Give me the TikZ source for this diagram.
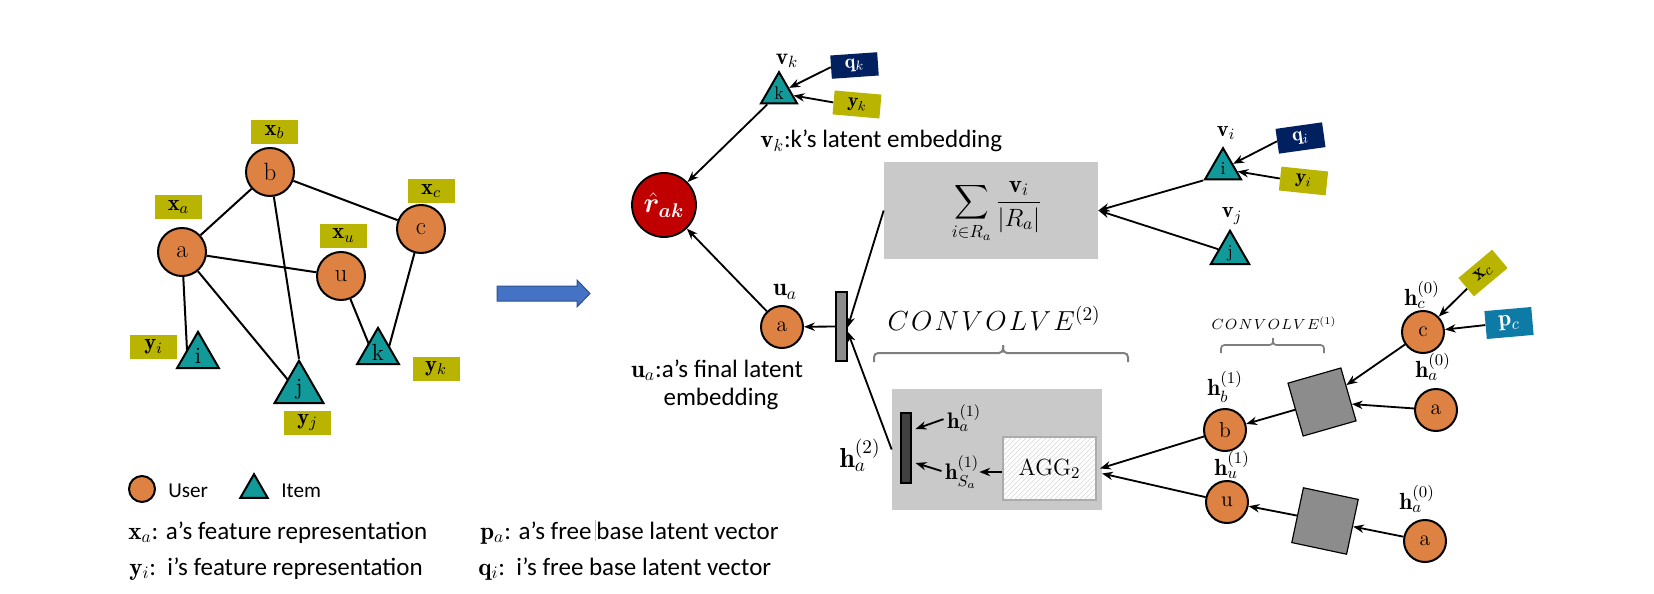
\RequirePackage{fix-cm}
\documentclass[tikz,border=0pt]{standalone}
\usepackage{amsmath}
\usepackage{bm}
\usepackage{fontspec}
\newfontfamily\carl{Carlito}
\usetikzlibrary{arrows.meta,shapes.geometric,patterns,calc}
\newcommand\fsz[1]{\fontsize{#1}{#1}\selectfont}
\definecolor{uorange}{HTML}{DE8244}
\definecolor{iteal}{HTML}{12999A}
\definecolor{olivebox}{HTML}{B8B400}
\definecolor{navybox}{HTML}{002060}
\definecolor{pblue}{HTML}{0E7BA7}
\definecolor{rred}{HTML}{C00000}
\definecolor{boxgray}{HTML}{C9C9C9}
\definecolor{sqgray}{HTML}{8C8C8C}
\definecolor{bargray}{HTML}{404040}
\definecolor{arrowblue}{HTML}{4472C4}
\definecolor{arrowedge}{HTML}{2F528F}
\definecolor{bracegray}{HTML}{7F7F7F}
\begin{document}
\begin{tikzpicture}[x=0.6pt,y=-0.6pt,
  user/.style={circle,draw,line width=1.2pt,fill=uorange,inner sep=0pt,minimum size=#1},
  user/.default=28.8pt,
  item/.style={regular polygon,regular polygon sides=3,draw,line width=1.2pt,fill=iteal,inner sep=0pt,minimum size=#1},
  item/.default=29pt,
  fbox/.style={rectangle,fill=olivebox,inner sep=0pt,minimum width=28.2pt,minimum height=14.4pt},
  nbox/.style={rectangle,fill=navybox,text=white,inner sep=0pt,minimum width=28.2pt,minimum height=14pt},
  conn/.style={line width=1.2pt},
  arr/.style={line width=1.1pt,-{Stealth[length=6.5pt,width=5pt]}},
  txt/.style={inner sep=0pt,font=\carl\fsz{15}},
  lab/.style={inner sep=0pt},
  bracestyle/.style={bracegray,line width=1.2pt,rounded corners=2.5pt},
  grayblock/.style={rectangle,fill=boxgray,inner sep=0pt}]
\useasboundingbox (0,0) rectangle (1654,594);

% ---------- left graph ----------
\begin{scope}[every node/.append style={font=\fsz{15}}]
\node[user] (na) at (182,252) {a};
\node[user] (nb) at (270,172) {b};
\node[user] (nu) at (341,276) {u};
\node[user] (nc) at (421,229) {c};
\end{scope}
\draw[conn] (na) -- (nb);
\draw[conn] (nb) -- (nc);
\draw[conn] (na) -- (nu);
\draw[conn] (na) -- (187,350);
\draw[conn] (na) -- (288,380);
\draw[conn] (nu) -- (370,347);
\draw[conn] (nc) -- (389,347);
\begin{scope}[every node/.append style={font=\fsz{14}}]
\node[item] (ni) at (198,356) {i};
\node[item] (nj) at (299,389) {j};
\node[item] (nk) at (378,352) {k};
\end{scope}
\draw[conn] (nb) -- (nj.corner 1);
\begin{scope}[every node/.append style={font=\fsz{13.5}}]
\node[fbox] (xb) at (274.5,132) {$\mathbf{x}_b$};
\node[fbox] (xa) at (178.5,207) {$\mathbf{x}_a$};
\node[fbox] (xu) at (343.5,235.5) {$\mathbf{x}_u$};
\node[fbox] (xc) at (431,191) {$\mathbf{x}_c$};
\node[fbox] (yi) at (153.5,347) {$\mathbf{y}_i$};
\node[fbox] (yj) at (307.5,422.5) {$\mathbf{y}_j$};
\node[fbox] (yk) at (436,368.5) {$\mathbf{y}_k$};
\end{scope}

% ---------- legend ----------
\node[user=15.6pt] (lu) at (142,489) {};
\node[lab,anchor=base west,font=\carl\fsz{12.7}] (lut) at (168,497) {User};
\node[item=19pt] (li) at (254,490) {};
\node[lab,anchor=base west,font=\carl\fsz{12.7}] (lit) at (281,497) {Item};
\node[txt,anchor=base west] (d1) at (128,539) {$\mathbf{x}_a$: a’s feature representation};
\node[txt,anchor=base west] (d2) at (129,575) {$\mathbf{y}_i$:\ \ i’s feature representation};
\node[txt,anchor=base west] (d3) at (480,539) {$\mathbf{p}_a$: a’s free\hspace{0.15em}\textcolor{gray!55}{\rule[-0.08em]{0.7pt}{0.85em}}base latent vector};
\node[txt,anchor=base west] (d4) at (478,575) {$\mathbf{q}_i$:\ \ i’s free base latent vector};

% ---------- big arrow ----------
\draw[fill=arrowblue,draw=arrowedge,line width=0.6pt] (497,286) -- (577,286) -- (577,280) -- (590,293.5) -- (577,307) -- (577,301) -- (497,301) -- cycle;

% ---------- top: item k ----------
\node[item=25pt,font=\fsz{11}] (kt) at (779,93) {k};
\node[lab,font=\fsz{14}] (vk) at (787,61) {$\mathbf{v}_k$};
\node[nbox,rotate=4,font=\fsz{12}] (qk) at (854.5,65.5) {$\mathbf{q}_k$};
\node[fbox,rotate=-5,font=\fsz{12}] (yk2) at (857,104.5) {$\mathbf{y}_k$};
\draw[arr] (qk.west) -- (kt);
\draw[arr] (yk2.west) -- (kt);
\node[txt,anchor=base west] (vkd) at (760,148) {$\mathbf{v}_k$:k’s latent embedding};
\node[circle,fill=rred,draw,line width=1.1pt,minimum size=38.4pt,inner sep=0pt,text=white,font=\fsz{17}] (r) at (664,205) {$\bm{\hat{r}_{ak}}$};
\draw[arr] (kt) -- (r);

% ---------- sum box ----------
\node[grayblock,minimum width=128.4pt,minimum height=58.2pt] (sumb) at (991,210.5) {};
\node[lab,font=\fsz{15}] (sumf) at (997,212) {$\displaystyle\sum_{i\in R_a}\frac{\mathbf{v}_i}{|R_a|}$};
\node[item=25pt,font=\fsz{11}] (ti) at (1223,169) {i};
\node[lab,font=\fsz{13.5}] (vi) at (1226,133) {$\mathbf{v}_i$};
\node[nbox,rotate=8,font=\fsz{12},minimum height=15pt] (qi) at (1300.5,138) {$\mathbf{q}_i$};
\node[fbox,rotate=-6,font=\fsz{12}] (yi2) at (1303.5,181) {$\mathbf{y}_i$};
\draw[arr] (qi.west) -- (ti);
\draw[arr] (yi2.west) -- (ti);
\node[item=25pt,font=\fsz{11}] (tj) at (1230,253) {j};
\node[lab,font=\fsz{13.5}] (vj) at (1232,216) {$\mathbf{v}_j$};
\draw[arr] (ti.corner 2) -- (sumb.east);
\draw[arr] (tj) -- (sumb.east);

% ---------- u_a ----------
\node[user=25.2pt,font=\fsz{13}] (ua) at (782,327) {a};
\node[lab,font=\fsz{15}] (ual) at (785,292) {$\mathbf{u}_a$};
\node[rectangle,draw,line width=0.7pt,fill=sqgray,minimum width=6.6pt,minimum height=41.4pt,inner sep=0pt] (bar1) at (841.5,326.5) {};
\draw[arr] (bar1.west) -- (ua);
\draw[arr] (ua) -- (r);
\node[txt,anchor=base] (uad1) at (717,377) {$\mathbf{u}_a$:a’s final latent};
\node[txt,anchor=base] (uad2) at (721,405) {embedding};

% ---------- convolve 2 ----------
\node[lab,font=\fsz{16.5}] (cv2) at (994,318) {$C\mkern1.5mu O\mkern1.5mu N\mkern1.5mu V\mkern1.5mu O\mkern1.5mu L\mkern1.5mu V\mkern1.5mu E^{(2)}$};
\draw[bracestyle] (874,362) |- (1003,353) -- (1003,345);
\draw[bracestyle] (1003,345) -- (1003,353) -| (1128,362);
\node[grayblock,minimum width=126pt,minimum height=72.6pt] (convb) at (997,449.5) {};
\node[rectangle,draw,line width=0.7pt,fill=bargray,minimum width=6pt,minimum height=42pt,inner sep=0pt] (bar2) at (906,448) {};
\node[lab,font=\fsz{13.5}] (ha1) at (964,418) {$\mathbf{h}_a^{(1)}$};
\node[lab,font=\fsz{13.5}] (hsa) at (962,472) {$\mathbf{h}_{S_a}^{(1)}$};
\draw[arr,shorten <=2pt] (ha1.west) -- ($(bar2.east)+(4,-19)$);
\draw[arr,shorten <=2pt] (hsa.west) -- ($(bar2.east)+(4,15)$);
\node[rectangle,draw=gray!65,line width=1.2pt,preaction={fill=white},pattern=north east lines,pattern color=gray!30,minimum width=55.8pt,minimum height=37.8pt,inner sep=0pt,font=\fsz{14}] (agg) at (1049.5,468.5) {AGG$_2$};
\draw[arr] (agg.west |- hsa.east) -- (hsa.east);
\node[lab,font=\fsz{16.5}] (ha2) at (860,455) {$\mathbf{h}_a^{(2)}$};
\draw[arr] (sumb.west) -- ($(bar1.east)+(0,1)$);
\draw[arr] (convb.west) -- ($(bar1.east)+(0,5)$);

% ---------- convolve 1 ----------
\node[lab,font=\fsz{8.8}] (cv1) at (1274,323) {$C\mkern1.5mu O\mkern1.5mu N\mkern1.5mu V\mkern1.5mu O\mkern1.5mu L\mkern1.5mu V\mkern1.5mu E^{(1)}$};
\draw[bracestyle,line width=1pt,rounded corners=2pt] (1221,353) |- (1273,345) -- (1273,338);
\draw[bracestyle,line width=1pt,rounded corners=2pt] (1273,338) -- (1273,345) -| (1324,353);

\begin{scope}[every node/.append style={font=\fsz{13}}]
\node[user=25.2pt] (c2) at (1423,332) {c};
\node[user=25.2pt] (a1) at (1436,410) {a};
\node[user=25.2pt] (b2) at (1225,430) {b};
\node[user=25.2pt] (u2) at (1227,502) {u};
\node[user=25.2pt] (a2) at (1425,541) {a};
\end{scope}
\begin{scope}[every node/.append style={font=\fsz{14}}]
\node[lab] (hc0) at (1422,295) {$\mathbf{h}_c^{(0)}$};
\node[lab] (ha0a) at (1433,367) {$\mathbf{h}_a^{(0)}$};
\node[lab] (hb1) at (1225,387) {$\mathbf{h}_b^{(1)}$};
\node[lab] (hu1) at (1232,465) {$\mathbf{h}_u^{(1)}$};
\node[lab] (ha0b) at (1417,499) {$\mathbf{h}_a^{(0)}$};
\end{scope}
\node[fbox,rotate=40,minimum width=26.4pt,font=\fsz{12.5}] (xc2) at (1483,273) {$\mathbf{x}_c$};
\node[rectangle,fill=pblue,text=white,rotate=5,inner sep=0pt,minimum width=28.2pt,minimum height=16.8pt,font=\fsz{14}] (pc) at (1509,323) {$\mathbf{p}_c$};
\draw[arr] (xc2) -- (c2);
\draw[arr] (pc.west) -- (c2);
\node[rectangle,draw,line width=0.7pt,fill=sqgray,minimum size=33pt,inner sep=0pt,rotate=16] (sq1) at (1322,402) {};
\node[rectangle,draw,line width=0.7pt,fill=sqgray,minimum size=33.6pt,inner sep=0pt,rotate=-12] (sq2) at (1325,521) {};
\draw[arr] (c2) -- (sq1);
\draw[arr] (a1) -- (sq1);
\draw[arr] (sq1) -- (b2);
\draw[arr] (a2) -- (sq2);
\draw[arr] (sq2) -- (u2);
\draw[arr] (b2) -- ($(agg.east)+(3,0)$);
\draw[arr] (u2) -- ($(agg.east)+(5,5)$);
\end{tikzpicture}
\end{document}
